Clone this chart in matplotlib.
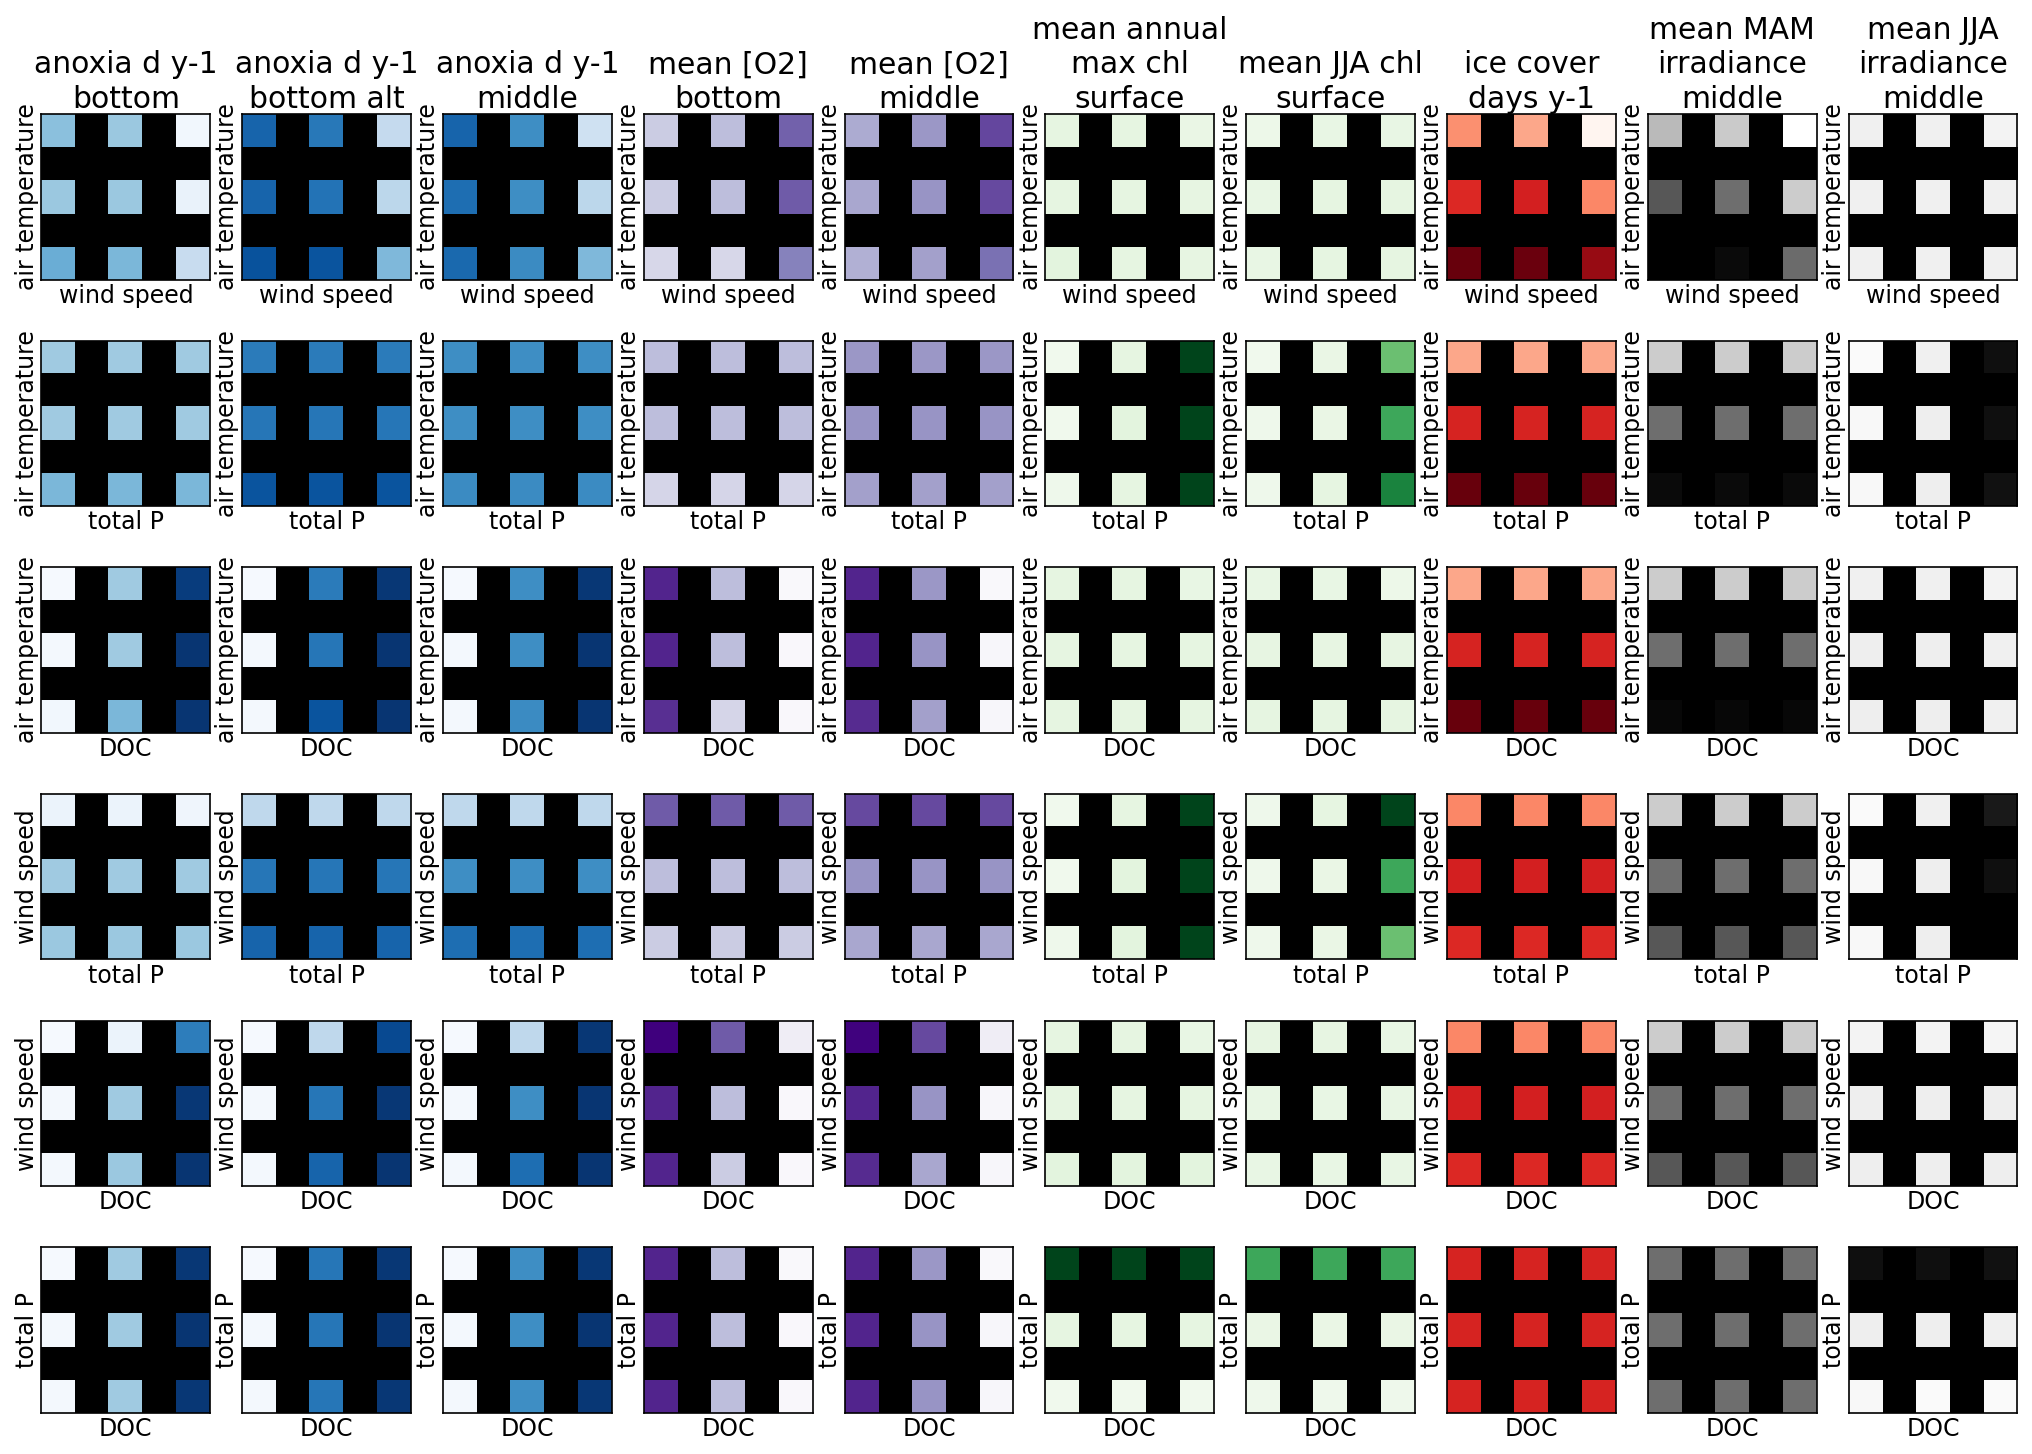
import numpy as np
import matplotlib.pyplot as plt

plt.rcParams['font.family'] = 'DejaVu Sans'
plt.rcParams['font.size'] = 17
plt.rcParams['axes.linewidth'] = 1.2

# column (response) titles and colormaps
titles = ['anoxia d y-1\nbottom', 'anoxia d y-1\nbottom alt', 'anoxia d y-1\nmiddle',
          'mean [O2]\nbottom', 'mean [O2]\nmiddle', 'mean annual\nmax chl\nsurface',
          'mean JJA chl\nsurface', 'ice cover\ndays y-1', 'mean MAM\nirradiance\nmiddle',
          'mean JJA\nirradiance\nmiddle']
cmaps = ['Blues', 'Blues', 'Blues', 'Purples', 'Purples', 'Greens', 'Greens',
         'Reds', 'gray', 'gray']

# row (driver pair) labels
y_labels = ['air temperature', 'air temperature', 'air temperature',
            'wind speed', 'wind speed', 'total P']
x_labels = ['wind speed', 'total P', 'DOC', 'total P', 'DOC', 'DOC']

# scaled responses (0-1), one 3x3 grid per driver pair, top row first
anoxia_bottom = [
    [[0.42, 0.38, 0.03], [0.38, 0.38, 0.07], [0.50, 0.46, 0.24]],
    [[0.37, 0.37, 0.37], [0.37, 0.37, 0.37], [0.46, 0.46, 0.46]],
    [[0.01, 0.37, 0.95], [0.02, 0.37, 0.98], [0.03, 0.46, 0.98]],
    [[0.06, 0.06, 0.04], [0.37, 0.37, 0.37], [0.38, 0.38, 0.38]],
    [[0.01, 0.06, 0.70], [0.02, 0.37, 0.97], [0.02, 0.38, 0.98]],
    [[0.01, 0.37, 0.97], [0.02, 0.37, 0.98], [0.02, 0.37, 0.97]],
]
anoxia_bottom_alt = [
    [[0.80, 0.72, 0.25], [0.80, 0.74, 0.28], [0.87, 0.86, 0.45]],
    [[0.71, 0.71, 0.71], [0.73, 0.73, 0.73], [0.86, 0.86, 0.86]],
    [[0.01, 0.71, 0.97], [0.02, 0.73, 0.98], [0.02, 0.86, 0.98]],
    [[0.27, 0.27, 0.27], [0.73, 0.73, 0.73], [0.80, 0.80, 0.80]],
    [[0.01, 0.27, 0.90], [0.02, 0.73, 0.97], [0.02, 0.80, 0.98]],
    [[0.01, 0.73, 0.97], [0.02, 0.73, 0.98], [0.02, 0.73, 0.97]],
]
anoxia_middle = [
    [[0.80, 0.64, 0.20], [0.76, 0.64, 0.28], [0.78, 0.65, 0.45]],
    [[0.64, 0.64, 0.64], [0.64, 0.64, 0.64], [0.65, 0.65, 0.65]],
    [[0.01, 0.64, 0.97], [0.02, 0.64, 0.98], [0.02, 0.65, 0.98]],
    [[0.27, 0.27, 0.27], [0.64, 0.64, 0.64], [0.76, 0.76, 0.76]],
    [[0.01, 0.27, 0.97], [0.02, 0.64, 0.98], [0.02, 0.76, 0.98]],
    [[0.01, 0.64, 0.97], [0.02, 0.64, 0.98], [0.02, 0.64, 0.97]],
]
o2_bottom = [
    [[0.31, 0.37, 0.70], [0.31, 0.37, 0.72], [0.26, 0.26, 0.60]],
    [[0.37, 0.37, 0.37], [0.37, 0.37, 0.37], [0.27, 0.27, 0.27]],
    [[0.88, 0.37, 0.02], [0.88, 0.37, 0.03], [0.85, 0.27, 0.03]],
    [[0.72, 0.72, 0.72], [0.37, 0.37, 0.37], [0.31, 0.31, 0.31]],
    [[1.00, 0.72, 0.12], [0.88, 0.37, 0.03], [0.88, 0.31, 0.03]],
    [[0.88, 0.37, 0.02], [0.88, 0.37, 0.03], [0.88, 0.37, 0.03]],
]
o2_middle = [
    [[0.44, 0.51, 0.78], [0.45, 0.52, 0.77], [0.42, 0.48, 0.66]],
    [[0.51, 0.51, 0.51], [0.52, 0.52, 0.52], [0.48, 0.48, 0.48]],
    [[0.88, 0.51, 0.02], [0.88, 0.52, 0.04], [0.86, 0.48, 0.04]],
    [[0.77, 0.77, 0.77], [0.52, 0.52, 0.52], [0.45, 0.45, 0.45]],
    [[0.99, 0.77, 0.12], [0.88, 0.52, 0.04], [0.86, 0.45, 0.04]],
    [[0.88, 0.51, 0.02], [0.88, 0.52, 0.04], [0.88, 0.52, 0.04]],
]
chl_max = [
    [[0.12, 0.12, 0.09], [0.12, 0.12, 0.11], [0.13, 0.12, 0.11]],
    [[0.05, 0.12, 1.00], [0.05, 0.13, 1.00], [0.06, 0.12, 1.00]],
    [[0.12, 0.12, 0.10], [0.12, 0.12, 0.12], [0.12, 0.12, 0.12]],
    [[0.05, 0.12, 1.00], [0.05, 0.13, 1.00], [0.06, 0.13, 1.00]],
    [[0.12, 0.12, 0.10], [0.12, 0.12, 0.12], [0.13, 0.13, 0.13]],
    [[1.00, 1.00, 1.00], [0.12, 0.12, 0.12], [0.05, 0.05, 0.05]],
]
chl_jja = [
    [[0.07, 0.10, 0.10], [0.10, 0.12, 0.12], [0.10, 0.12, 0.12]],
    [[0.05, 0.09, 0.52], [0.06, 0.09, 0.64], [0.06, 0.12, 0.78]],
    [[0.10, 0.10, 0.07], [0.11, 0.11, 0.11], [0.12, 0.12, 0.12]],
    [[0.06, 0.12, 1.00], [0.06, 0.09, 0.64], [0.06, 0.09, 0.52]],
    [[0.11, 0.11, 0.10], [0.10, 0.10, 0.10], [0.10, 0.10, 0.10]],
    [[0.64, 0.64, 0.64], [0.09, 0.09, 0.09], [0.06, 0.06, 0.06]],
]
ice_cover = [
    [[0.38, 0.31, 0.00], [0.69, 0.72, 0.41], [1.00, 0.99, 0.90]],
    [[0.31, 0.31, 0.31], [0.71, 0.71, 0.71], [1.00, 1.00, 1.00]],
    [[0.31, 0.31, 0.31], [0.71, 0.71, 0.71], [1.00, 1.00, 1.00]],
    [[0.41, 0.41, 0.41], [0.72, 0.72, 0.72], [0.69, 0.69, 0.69]],
    [[0.41, 0.41, 0.41], [0.72, 0.72, 0.72], [0.69, 0.69, 0.69]],
    [[0.71, 0.71, 0.71], [0.71, 0.71, 0.71], [0.71, 0.71, 0.71]],
]
irr_mam = [
    [[0.73, 0.79, 1.00], [0.34, 0.43, 0.80], [0.00, 0.04, 0.42]],
    [[0.80, 0.80, 0.80], [0.43, 0.43, 0.43], [0.04, 0.04, 0.04]],
    [[0.80, 0.80, 0.80], [0.43, 0.43, 0.43], [0.03, 0.03, 0.03]],
    [[0.80, 0.80, 0.80], [0.43, 0.43, 0.43], [0.34, 0.34, 0.34]],
    [[0.80, 0.80, 0.80], [0.43, 0.43, 0.43], [0.34, 0.34, 0.34]],
    [[0.43, 0.43, 0.43], [0.43, 0.43, 0.43], [0.43, 0.43, 0.43]],
]
irr_jja = [
    [[0.94, 0.94, 0.95], [0.94, 0.94, 0.94], [0.94, 0.94, 0.94]],
    [[0.98, 0.94, 0.06], [0.97, 0.93, 0.06], [0.97, 0.93, 0.07]],
    [[0.94, 0.94, 0.95], [0.93, 0.93, 0.94], [0.93, 0.93, 0.94]],
    [[0.98, 0.94, 0.10], [0.97, 0.93, 0.06], [0.97, 0.93, 0.00]],
    [[0.95, 0.95, 0.96], [0.93, 0.93, 0.93], [0.93, 0.93, 0.93]],
    [[0.06, 0.06, 0.07], [0.93, 0.93, 0.94], [0.97, 0.98, 0.98]],
]

responses = [anoxia_bottom, anoxia_bottom_alt, anoxia_middle, o2_bottom, o2_middle,
             chl_max, chl_jja, ice_cover, irr_mam, irr_jja]


def spread(grid):
    # put the 3x3 levels on a 5x5 grid, gaps left empty (drawn black)
    out = np.full((5, 5), np.nan)
    out[::2, ::2] = np.array(grid)
    return out


fig, axes = plt.subplots(6, 10, figsize=(20.33, 14.54), dpi=100)
fig.subplots_adjust(left=0.0204, right=0.9923, top=0.9215, bottom=0.0285,
                    wspace=0.19, hspace=0.37)

for j, (title, cm_name, vals) in enumerate(zip(titles, cmaps, responses)):
    cmap = plt.get_cmap(cm_name).copy()
    cmap.set_bad('black')
    for i in range(6):
        ax = axes[i, j]
        ax.imshow(spread(vals[i]), cmap=cmap, vmin=0, vmax=1,
                  interpolation='nearest', aspect='auto')
        ax.set_xticks([])
        ax.set_yticks([])
        ax.set_xlabel(x_labels[i], labelpad=3)
        ax.set_ylabel(y_labels[i], labelpad=2)
        if i == 0:
            ax.set_title(title, fontsize=21.5, pad=4, linespacing=1.25)

fig.savefig('out.png', dpi=100, facecolor='white')
